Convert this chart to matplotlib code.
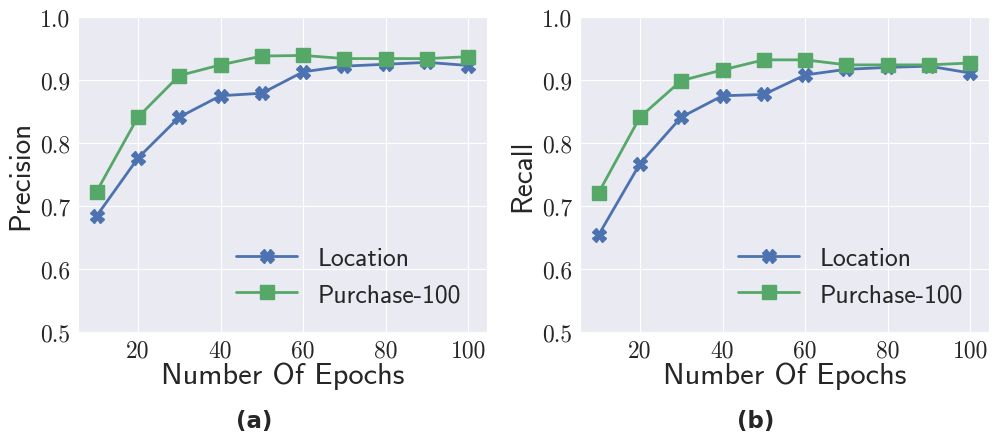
import numpy as np
import matplotlib
matplotlib.use('Agg')
import matplotlib.pyplot as plt
import seaborn as sns

# --- data ---
epochs = [10, 20, 30, 40, 50, 60, 70, 80, 90, 100]
prec_location = [0.684, 0.776, 0.841, 0.875, 0.879, 0.913, 0.922, 0.925, 0.928, 0.923]
prec_purchase = [0.723, 0.841, 0.907, 0.924, 0.938, 0.939, 0.934, 0.934, 0.934, 0.937]
rec_location = [0.654, 0.767, 0.841, 0.875, 0.877, 0.908, 0.917, 0.920, 0.922, 0.911]
rec_purchase = [0.721, 0.841, 0.899, 0.916, 0.932, 0.932, 0.924, 0.924, 0.924, 0.927]
yticks = [0.5, 0.6, 0.7, 0.8, 0.9, 1.0]
xticks = [20, 40, 60, 80, 100]

sns.set_style('darkgrid')
plt.rcParams['axes.unicode_minus'] = False

blue = '#4C72B0'
green = '#55A868'

fig = plt.figure(figsize=(9.92, 4.35), dpi=100)
ax1 = fig.add_axes([78/992, 1 - 333/435, 409/992, 315/435])
ax2 = fig.add_axes([580/992, 1 - 333/435, 409/992, 315/435])

panels = [(ax1, prec_location, prec_purchase, 'Precision', '(a)', 254.5),
          (ax2, rec_location, rec_purchase, 'Recall', '(b)', 756)]

for ax, loc, pur, ylab, cap, cx in panels:
    ax.plot(epochs, loc, color=blue, marker='X', markersize=10, linewidth=2, label='Location')
    ax.plot(epochs, pur, color=green, marker='s', markersize=10, linewidth=2, label='Purchase-100')
    ax.set_ylim(0.5, 1.0)
    ax.set_yticks(yticks)
    ax.set_xticks(xticks)
    ax.set_yticklabels(['%.1f' % v for v in yticks], fontfamily='cmr10', fontsize=17)
    ax.set_xticklabels([str(v) for v in xticks], fontfamily='cmr10', fontsize=17)
    ax.tick_params(axis='both', pad=2, colors='#262626')
    ax.set_xlabel('Number Of Epochs', fontfamily='cmss10', fontsize=22, labelpad=0, color='#262626')
    ax.set_ylabel(ylab, fontfamily='cmss10', fontsize=21, labelpad=4, color='#262626')
    ax.legend(loc='lower right', frameon=False, prop={'family': 'cmss10', 'size': 18.5},
              handlelength=2.4, borderaxespad=0.6)
    # panel caption (not centred on the axes in the original)
    fig.text(cx / 992, 1 - 422 / 435, cap, ha='center', va='center',
             fontfamily='DejaVu Sans', fontweight='bold', fontsize=16.5)

fig.savefig('out.png', dpi=100)
